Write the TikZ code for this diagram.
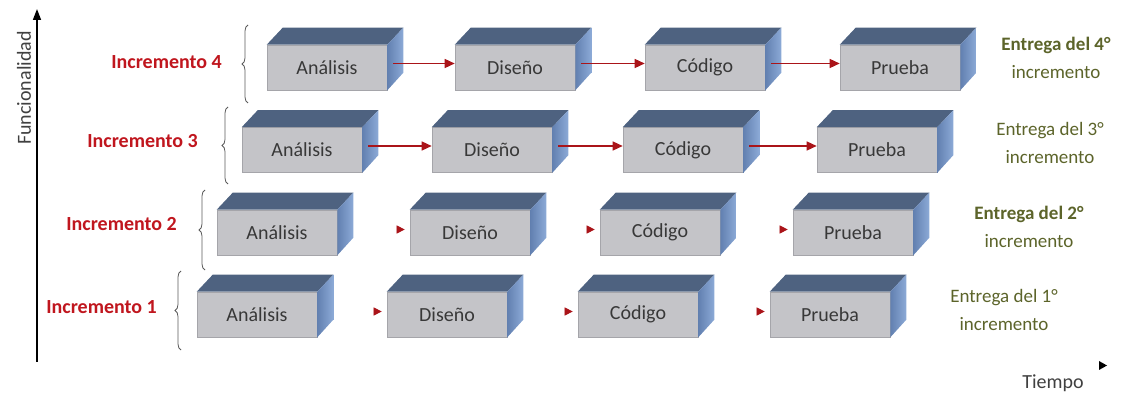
\documentclass[tikz,border=0pt]{standalone}
\usepackage{fontspec}
\setmainfont{Carlito}
\usetikzlibrary{arrows.meta,decorations.pathreplacing,decorations.markings,calc}
\definecolor{topf}{RGB}{78,98,128}
\definecolor{sidel}{RGB}{98,128,176}
\definecolor{sider}{RGB}{140,170,215}
\definecolor{frontc}{RGB}{196,196,200}
\definecolor{frontb}{RGB}{165,165,170}
\definecolor{arrowred}{RGB}{170,20,25}
\definecolor{incred}{RGB}{192,22,30}
\definecolor{olivetxt}{RGB}{92,100,42}
\definecolor{bracec}{RGB}{90,90,90}
\begin{document}
\begin{tikzpicture}[x=1pt,y=-1pt,
  stagebox/.style={minimum width=120pt,minimum height=45pt,inner sep=0pt,
    fill=frontc,draw=frontb,line width=0.6pt,
    font=\fontsize{20}{24}\selectfont,text=black!78},
  flow/.style={draw=arrowred,line width=1.4pt,-{Triangle[length=10pt,width=9pt]}},
  tipmark/.style={postaction={decorate,decoration={markings,
    mark=at position -5pt with {\arrow[arrowred]{Triangle[length=8pt,width=8pt]}}}}},
  inclabel/.style={font=\fontsize{20}{24}\selectfont\bfseries,text=incred,anchor=east,inner sep=0pt},
  deliv/.style={font=\fontsize{19}{28}\selectfont,text=olivetxt,align=center,inner sep=0pt},
  rowbrace/.style={draw=bracec,line width=0.8pt,decorate,decoration={brace,amplitude=6pt}},
  axislabel/.style={font=\fontsize{20}{24}\selectfont,text=black!75,inner sep=0pt}
]
\useasboundingbox (0,0) rectangle (1133,395);

% boxes (front faces)
\foreach \r/\y/\xa/\xb/\xc/\xd in {4/67.5/327/515/705/900, 3/150/302/492/683/877,
    2/232.5/277/470/660/853, 1/314.5/257/447/638/830} {
  \node[stagebox] (a\r) at (\xa,\y) {Análisis};
  \node[stagebox] (d\r) at (\xb,\y) {Diseño};
  \node[stagebox] (c\r) at (\xc,\y) {Código};
  \node[stagebox] (p\r) at (\xd,\y) {Prueba};
}
% 3D faces
\foreach \n in {a4,d4,c4,p4,a3,d3,c3,p3,a2,d2,c2,p2,a1,d1,c1,p1} {
  \fill[topf] (\n.north west) -- ++(16,-17) -- ($(\n.north east)+(16,-17)$) -- (\n.north east) -- cycle;
  \shade[left color=sidel,right color=sider] (\n.north east) -- ++(16,-17) -- ++(0,45) -- (\n.south east) -- cycle;
}

% arrows rows 4 and 3
\foreach \r in {4,3} {
  \draw[flow] ($(a\r.east)+(6,-4)$) -- ($(d\r.west)+(0,-4)$);
  \draw[flow] ($(d\r.east)+(6,-4)$) -- ($(c\r.west)+(0,-4)$);
  \draw[flow] ($(c\r.east)+(6,-4)$) -- ($(p\r.west)+(0,-4)$);
}
% arrowheads rows 2 and 1
\foreach \r in {2,1} {
  \path[tipmark] ($(a\r.east)+(0,-3)$) -- ($(d\r.west)+(0,-3)$);
  \path[tipmark] ($(d\r.east)+(0,-3)$) -- ($(c\r.west)+(0,-3)$);
  \path[tipmark] ($(c\r.east)+(0,-3)$) -- ($(p\r.west)+(0,-3)$);
}

% braces
\draw[rowbrace] (248,103) -- (248,25);
\draw[rowbrace] (228,184) -- (228,107);
\draw[rowbrace] (205,270) -- (205,190);
\draw[rowbrace] (181,350) -- (181,271);

% increment labels
\node[inclabel] (i4) at (222,62) {Incremento 4};
\node[inclabel] (i3) at (198,141) {Incremento 3};
\node[inclabel] (i2) at (177,224) {Incremento 2};
\node[inclabel] (i1) at (157,307) {Incremento 1};

% delivery labels
\node[deliv] (e4) at (1056,58) {\textbf{Entrega del 4°}\\incremento};
\node[deliv] (e3) at (1050,143) {Entrega del 3°\\incremento};
\node[deliv] (e2) at (1029,227) {\textbf{Entrega del 2°}\\incremento};
\node[deliv] (e1) at (1004,310) {Entrega del 1°\\incremento};

% vertical axis
\coordinate (ax0) at (37,362);
\coordinate (ax1) at (37,9);
\draw[line width=1.5pt,-{Triangle[length=11pt,width=8pt]}] (ax0) -- (ax1);
\node[axislabel,rotate=90] (func) at (24,88) {Funcionalidad};

% time label
\node[axislabel] (tiempo) at (1053,383) {Tiempo};
\fill[black] (1099,361) -- (1107,365.5) -- (1099,370) -- cycle;
\end{tikzpicture}
\end{document}
